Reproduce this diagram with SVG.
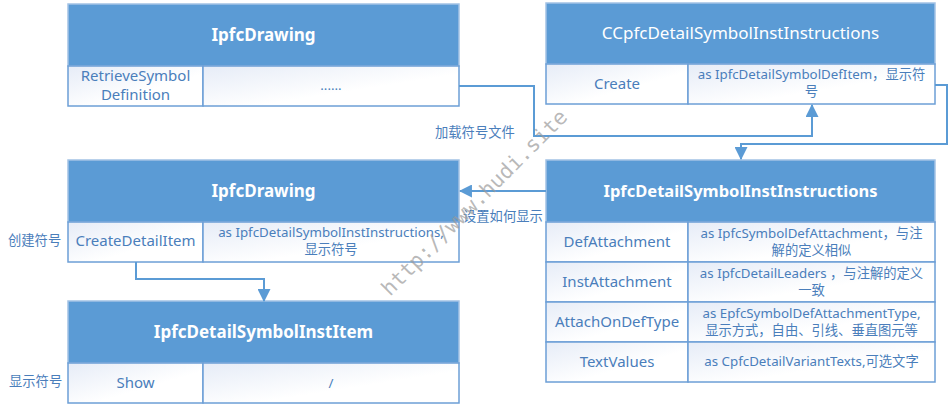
<svg xmlns="http://www.w3.org/2000/svg" width="949" height="404" viewBox="0 0 949 404">
<defs>
<linearGradient id="cellg" x1="0" y1="0" x2="1" y2="1">
<stop offset="0" stop-color="#E6ECF7"/>
<stop offset="0.6" stop-color="#FFFFFF"/>
</linearGradient>
<marker id="arr" markerUnits="userSpaceOnUse" markerWidth="13" markerHeight="13" viewBox="0 0 12 12" refX="11" refY="6" orient="auto">
<path d="M0,0 L12,6 L0,12 Z" fill="#5B9BD5"/>
</marker>
</defs>
<style>
.hd{fill:#5B9BD5;stroke:#A3C2E5;stroke-width:1.5}
.cell{fill:url(#cellg);stroke:#6C9FD6;stroke-width:1.5}
.ttl{font-family:"Noto Sans","Noto Sans CJK SC",sans-serif;fill:#FFFFFF;text-anchor:middle;font-size:17px}
.b{font-weight:bold}
.t{font-family:"Noto Sans","Noto Sans CJK SC",sans-serif;fill:#4A7EBB;text-anchor:middle;font-size:15px}
.s{font-family:"Noto Sans","Noto Sans CJK SC",sans-serif;fill:#4A7EBB;text-anchor:middle;font-size:13.3px}
.lbl{font-family:"Noto Sans CJK SC","Noto Sans",sans-serif;fill:#4A7EBB;font-size:13.3px}
.con{fill:none;stroke:#5B9BD5;stroke-width:2}
</style>

<g id="node-ipfcdrawing-top">
<rect class="hd" x="68" y="4" width="391" height="62"/>
<text class="ttl b" x="263.5" y="41">IpfcDrawing</text>
<rect class="cell" x="68" y="66" width="135" height="40"/>
<rect class="cell" x="203" y="66" width="256" height="40"/>
<text class="t" x="135.5" y="81">RetrieveSymbol</text>
<text class="t" x="135.5" y="100">Definition</text>
<text class="s" x="331" y="90">......</text>
</g>

<g id="node-ccpfc-instructions">
<rect class="hd" x="546" y="3" width="389" height="61"/>
<text class="ttl" x="740.5" y="39">CCpfcDetailSymbolInstInstructions</text>
<rect class="cell" x="546" y="64" width="142" height="40"/>
<rect class="cell" x="688" y="64" width="247" height="40"/>
<text class="t" x="617" y="89">Create</text>
<text class="s" x="811.5" y="79">as IpfcDetailSymbolDefItem，显示符</text>
<text class="s" x="811.5" y="96">号</text>
</g>

<g id="node-ipfcdrawing-mid">
<rect class="hd" x="68" y="160" width="391" height="62"/>
<text class="ttl b" x="263.5" y="197">IpfcDrawing</text>
<rect class="cell" x="68" y="222" width="135" height="40"/>
<rect class="cell" x="203" y="222" width="256" height="40"/>
<text class="t" x="135.5" y="246">CreateDetailItem</text>
<text class="s" x="331" y="237">as IpfcDetailSymbolInstInstructions,</text>
<text class="s" x="331" y="254">显示符号</text>
</g>

<g id="node-ipfcdetailsymbolinstitem">
<rect class="hd" x="68" y="301" width="391" height="62"/>
<text class="ttl b" x="263.5" y="338">IpfcDetailSymbolInstItem</text>
<rect class="cell" x="68" y="363" width="135" height="40"/>
<rect class="cell" x="203" y="363" width="256" height="40"/>
<text class="t" x="135.5" y="388">Show</text>
<text class="s" x="331" y="388">/</text>
</g>

<g id="node-ipfcdetailsymbolinstinstructions">
<rect class="hd" x="546" y="160" width="389" height="62"/>
<text class="ttl b" x="740.5" y="197" style="font-size:16.5px">IpfcDetailSymbolInstInstructions</text>
<rect class="cell" x="546" y="222" width="142" height="40"/>
<rect class="cell" x="688" y="222" width="247" height="40"/>
<rect class="cell" x="546" y="262" width="142" height="40"/>
<rect class="cell" x="688" y="262" width="247" height="40"/>
<rect class="cell" x="546" y="302" width="142" height="40"/>
<rect class="cell" x="688" y="302" width="247" height="40"/>
<rect class="cell" x="546" y="342" width="142" height="40"/>
<rect class="cell" x="688" y="342" width="247" height="40"/>
<text class="t" x="617" y="247">DefAttachment</text>
<text class="s" x="811.5" y="238">as IpfcSymbolDefAttachment，与注</text>
<text class="s" x="811.5" y="255">解的定义相似</text>
<text class="t" x="617" y="287">InstAttachment</text>
<text class="s" x="811.5" y="278">as IpfcDetailLeaders ，与注解的定义</text>
<text class="s" x="811.5" y="295">一致</text>
<text class="t" x="617" y="327">AttachOnDefType</text>
<text class="s" x="811.5" y="318">as EpfcSymbolDefAttachmentType,</text>
<text class="s" x="811.5" y="335">显示方式，自由、引线、垂直图元等</text>
<text class="t" x="617" y="367">TextValues</text>
<text class="s" x="811.5" y="366">as CpfcDetailVariantTexts,可选文字</text>
</g>

<g id="connectors">
<path class="con" d="M459,86 H534 V136 H812 V105" marker-end="url(#arr)"/>
<path class="con" d="M935,85 H947 V144 H741 V159" marker-end="url(#arr)"/>
<path class="con" d="M546,191 H460" marker-end="url(#arr)"/>
<path class="con" d="M136,262 V279 H264 V301" marker-end="url(#arr)"/>
</g>

<g id="labels">
<text class="lbl" x="435" y="137">加载符号文件</text>
<text class="lbl" x="463" y="221">设置如何显示</text>
<text class="lbl" x="8" y="245">创建符号</text>
<text class="lbl" x="9" y="386">显示符号</text>
</g>

<text x="0" y="0" transform="translate(390,297) rotate(-45)" font-family="'DejaVu Sans Mono','Liberation Mono',monospace" font-size="21" fill="#9A9A9A" fill-opacity="0.7">http://www.hudi.site</text>
</svg>
